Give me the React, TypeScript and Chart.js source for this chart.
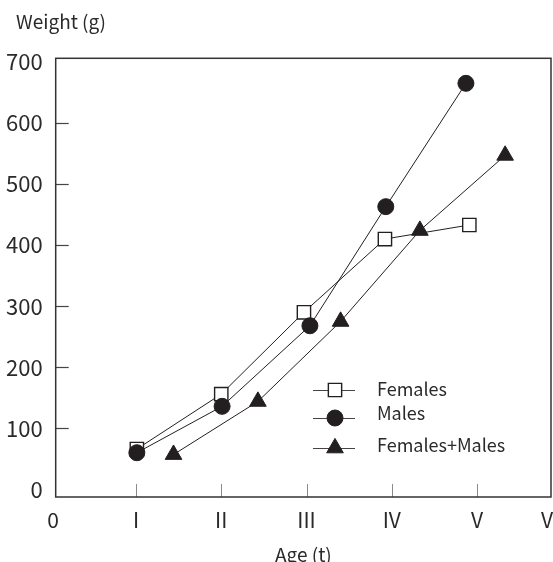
import { useEffect, useRef } from "react";
import { Chart, registerables } from "chart.js";

Chart.register(...registerables);

// ---- data ----
const femalesAge = [1.01, 2.0, 2.97, 3.92, 4.91];
const femalesWeight = [66, 156, 290, 410, 433];
const malesAge = [1.01, 2.01, 3.04, 3.93, 4.87];
const malesWeight = [60, 136, 268, 463, 665];
const bothAge = [1.44, 2.43, 3.4, 4.33, 5.33];
const bothWeight = [57, 144, 275, 424, 547];

const seriesNames = ["Females", "Males", "Females+Males"];
const yTickValues = [0, 100, 200, 300, 400, 500, 600, 700];
const xTickValues = [0, 1, 2, 3, 4, 5, 6];
const xTickLabels = ["0", "I", "II", "III", "IV", "V", "VI"];
const yAxisTitle = "Weight (g)";
const xAxisTitle = "Age (t)";

// ---- styles ----
const FONT = "'Noto Sans CJK KR', 'Noto Sans', sans-serif";
const INK = "#231f20";
const TEXT = "#2a2a2a";

const W = 553;
const H = 562;

const pts = (xs: number[], ys: number[]) => xs.map((x, i) => ({ x, y: ys[i] }));

type Marker = { pointStyle: string; radius: number; bg: string; border: string; bw: number };
const markers: Marker[] = [
  { pointStyle: "rect", radius: 9.4, bg: "#ffffff", border: INK, bw: 1.4 },
  { pointStyle: "circle", radius: 8, bg: INK, border: INK, bw: 1 },
  { pointStyle: "triangle", radius: 9.6, bg: INK, border: INK, bw: 1 },
];

function drawMarker(ctx: CanvasRenderingContext2D, m: Marker, x: number, y: number) {
  ctx.save();
  ctx.fillStyle = m.bg;
  ctx.strokeStyle = m.border;
  ctx.lineWidth = m.bw;
  ctx.beginPath();
  if (m.pointStyle === "rect") {
    const s = Math.SQRT1_2 * m.radius;
    ctx.rect(x - s, y - s, 2 * s, 2 * s);
  } else if (m.pointStyle === "circle") {
    ctx.arc(x, y, m.radius, 0, Math.PI * 2);
  } else {
    const r = m.radius;
    ctx.moveTo(x, y - r);
    ctx.lineTo(x + Math.sin((2 * Math.PI) / 3) * r, y + 0.5 * r);
    ctx.lineTo(x - Math.sin((2 * Math.PI) / 3) * r, y + 0.5 * r);
    ctx.closePath();
  }
  ctx.fill();
  ctx.stroke();
  ctx.restore();
}

const decor = {
  id: "decor",
  beforeDatasetsDraw(chart: any) {
    const { ctx, chartArea: a, scales } = chart;
    ctx.save();
    // inner tick marks on y
    ctx.strokeStyle = "#444";
    ctx.lineWidth = 1.2;
    const yFirst = yTickValues[0];
    const yLast = yTickValues[yTickValues.length - 1];
    yTickValues.forEach((v) => {
      if (v === yFirst || v === yLast) return;
      const y = Math.round(scales.y.getPixelForValue(v)) + 0.5;
      ctx.beginPath();
      ctx.moveTo(a.left, y);
      ctx.lineTo(a.left + 13, y);
      ctx.stroke();
    });
    // inner tick marks on x
    ctx.strokeStyle = "#8a8a8a";
    ctx.lineWidth = 1;
    xTickValues.forEach((v) => {
      const x = scales.x.getPixelForValue(v);
      if (x <= a.left + 2 || x >= a.right - 2) return;
      const xx = Math.round(x) + 0.5;
      ctx.beginPath();
      ctx.moveTo(xx, a.bottom);
      ctx.lineTo(xx, a.bottom - 13);
      ctx.stroke();
    });
    // frame
    ctx.strokeStyle = "#333";
    ctx.lineWidth = 1.5;
    ctx.strokeRect(a.left, a.top, a.right - a.left, a.bottom - a.top);
    ctx.restore();
  },
  afterDraw(chart: any) {
    const { ctx, chartArea: a, scales } = chart;
    ctx.save();
    ctx.fillStyle = TEXT;
    ctx.textBaseline = "middle";
    // x tick labels
    ctx.font = `21px ${FONT}`;
    xTickValues.forEach((v, i) => {
      const px = scales.x.getPixelForValue(v);
      if (px > a.right) {
        ctx.textAlign = "left";
        ctx.fillText(xTickLabels[i], a.right - 10, a.bottom + 23.5);
      } else {
        ctx.textAlign = "center";
        ctx.fillText(xTickLabels[i], Math.max(px, a.left - 2.5), a.bottom + 23.5);
      }
    });
    // axis titles
    ctx.font = `19px ${FONT}`;
    ctx.textAlign = "center";
    ctx.fillText(xAxisTitle, (a.left + a.right) / 2, a.bottom + 58);
    ctx.textAlign = "left";
    ctx.fillText(yAxisTitle, 16, 22);

    // legend
    const lx = 335;
    const markerY = [390, 418, 448];
    const textY = [389, 413, 445];
    ctx.font = `18px ${FONT}`;
    seriesNames.forEach((name, i) => {
      ctx.strokeStyle = "#444";
      ctx.lineWidth = 1;
      ctx.beginPath();
      ctx.moveTo(lx - 22, Math.round(markerY[i]) + 0.5);
      ctx.lineTo(lx + 20, Math.round(markerY[i]) + 0.5);
      ctx.stroke();
      drawMarker(ctx, markers[i], lx, markerY[i]);
      ctx.fillStyle = TEXT;
      ctx.textAlign = "left";
      ctx.fillText(name, 377, textY[i]);
    });
    ctx.restore();
  },
};

export default function App() {
  const ref = useRef<HTMLCanvasElement | null>(null);

  useEffect(() => {
    if (!ref.current) return;
    const series = [
      pts(femalesAge, femalesWeight),
      pts(malesAge, malesWeight),
      pts(bothAge, bothWeight),
    ];
    const chart = new Chart(ref.current, {
      type: "scatter",
      data: {
        datasets: series.map((data, i) => ({
          label: seriesNames[i],
          data,
          showLine: true,
          borderColor: INK,
          borderWidth: 1,
          pointStyle: markers[i].pointStyle as any,
          pointRadius: markers[i].radius,
          pointHoverRadius: markers[i].radius,
          pointBackgroundColor: markers[i].bg,
          pointBorderColor: markers[i].border,
          pointBorderWidth: markers[i].bw,
          order: 2 - i,
        })),
      },
      options: {
        responsive: false,
        animation: false,
        events: [],
        layout: { autoPadding: false, padding: { top: 58.3, right: 2, left: 0, bottom: 0 } },
        plugins: {
          legend: { display: false },
          tooltip: { enabled: false },
          title: { display: false },
        },
        scales: {
          x: {
            type: "linear",
            min: 0.058,
            max: 5.868,
            grid: { display: false, drawTicks: false },
            border: { display: false },
            ticks: { display: false },
            afterFit: (s: any) => {
              s.height = 65;
            },
          },
          y: {
            type: "linear",
            min: -12.5,
            max: 706,
            grid: { display: false, drawTicks: false },
            border: { display: false },
            afterBuildTicks: (s: any) => {
              s.ticks = yTickValues.map((v) => ({ value: v }));
            },
            ticks: {
              color: TEXT,
              padding: 13,
              font: { family: FONT, size: 22 },
            },
            afterFit: (s: any) => {
              s.width = 55.7;
            },
          },
        },
      },
      plugins: [decor],
    });
    return () => chart.destroy();
  }, []);

  return (
    <div>
      <canvas
        ref={ref}
        width={W}
        height={H}
        style={{ position: "fixed", left: 0, top: 0, display: "block", width: W, height: H }}
      />
    </div>
  );
}
